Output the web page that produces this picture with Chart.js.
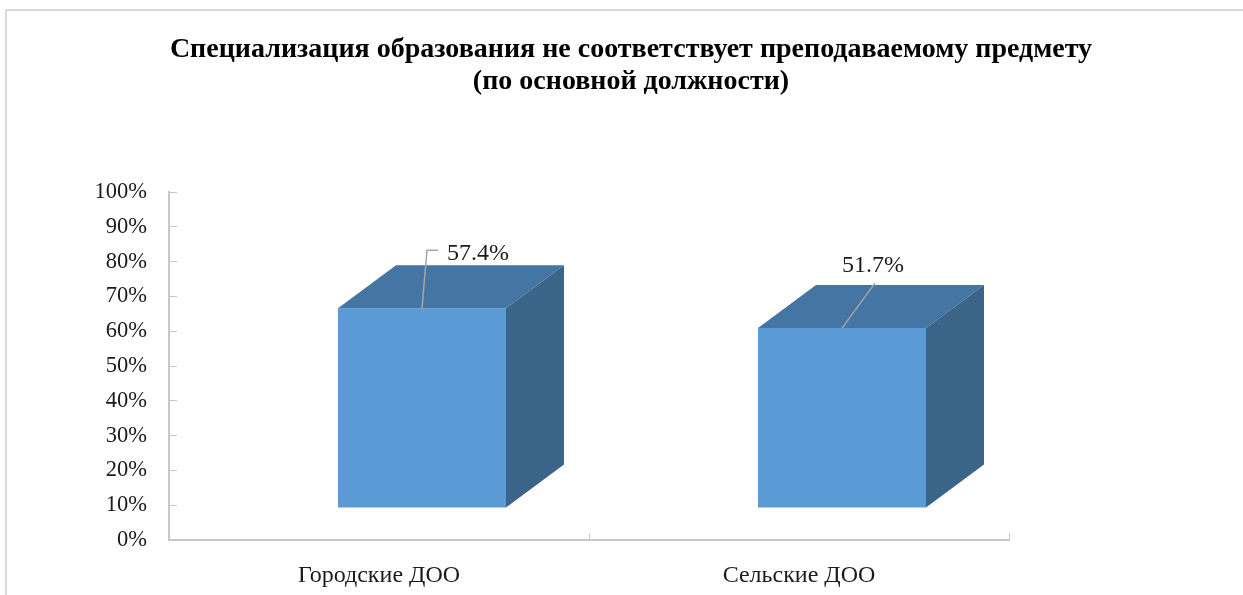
<!DOCTYPE html>
<html>
<head>
	<script src="https://cdn.jsdelivr.net/npm/chart.js@4.4.1/dist/chart.umd.min.js"></script>
	<title>Специализация образования</title>
	<style>
		html, body { margin: 0; padding: 0; background: #fff; }
		#wrap { width: 1243px; height: 595px; }
	</style>
</head>
<body>
<div id="wrap"><canvas id="chart" width="1243" height="595"></canvas></div>
<script type="text/javascript">
	const titleLines = ['Специализация образования не соответствует преподаваемому предмету', '(по основной должности)'];
	const categories = ['Городские ДОО', 'Сельские ДОО'];
	const values = [57.4, 51.7];
	const yTicks = [0, 10, 20, 30, 40, 50, 60, 70, 80, 90, 100];

	const serif = '"Liberation Serif", "Times New Roman", serif';
	const axisGray = '#C8C8C8';

	// 3d look: front face shifted, then top and side faces
	const shift = { x: 43, y: -32 };
	const depth = { x: 58, y: -43 };
	// where each value label sits, relative to the top centre of the front face
	const labelPos = [
		{ dx: 56, dy: -55, line: [[0, 0], [5, -58], [16, -58]] },
		{ dx: 31, dy: -62, line: [[0, 0], [33, -45]] }
	];

	const box3d = {
		id: 'box3d',
		beforeDraw(chart) {
			const ctx = chart.ctx;
			ctx.save();
			ctx.fillStyle = '#fff';
			ctx.fillRect(0, 0, chart.width, chart.height);
			ctx.strokeStyle = '#D9D9D9';
			ctx.lineWidth = 2;
			ctx.strokeRect(6, 10, chart.width + 10, chart.height + 10);
			ctx.fillStyle = '#000';
			ctx.font = 'bold 28px ' + serif;
			ctx.textAlign = 'center';
			ctx.textBaseline = 'middle';
			titleLines.forEach((t, i) => ctx.fillText(t, 631, 50 + i * 32));
			ctx.restore();
		},
		beforeDatasetsDraw(chart) {
			chart.ctx.save();
			chart.ctx.translate(shift.x, shift.y);
		},
		afterDatasetsDraw(chart) {
			const ctx = chart.ctx;
			ctx.restore();
			const meta = chart.getDatasetMeta(0);
			meta.data.forEach((bar, i) => {
				const p = bar.getProps(['x', 'y', 'base', 'width'], true);
				const l = p.x - p.width / 2 + shift.x;
				const r = p.x + p.width / 2 + shift.x;
				const t = p.y + shift.y;
				const b = p.base + shift.y;
				ctx.save();
				ctx.fillStyle = '#4575A2';
				ctx.beginPath();
				ctx.moveTo(l, t); ctx.lineTo(l + depth.x, t + depth.y);
				ctx.lineTo(r + depth.x, t + depth.y); ctx.lineTo(r, t);
				ctx.closePath(); ctx.fill();
				ctx.fillStyle = '#3A6488';
				ctx.beginPath();
				ctx.moveTo(r, t); ctx.lineTo(r + depth.x, t + depth.y);
				ctx.lineTo(r + depth.x, b + depth.y); ctx.lineTo(r, b);
				ctx.closePath(); ctx.fill();

				const cx = p.x + shift.x;
				const lp = labelPos[i];
				ctx.strokeStyle = '#A6A6A6';
				ctx.lineWidth = 1.5;
				ctx.beginPath();
				lp.line.forEach((pt, k) => k ? ctx.lineTo(cx + pt[0], t + pt[1]) : ctx.moveTo(cx + pt[0], t + pt[1]));
				ctx.stroke();
				ctx.fillStyle = '#1a1a1a';
				ctx.font = '24px ' + serif;
				ctx.textAlign = 'center';
				ctx.textBaseline = 'middle';
				ctx.fillText(values[i].toFixed(1) + '%', cx + lp.dx, t + lp.dy);
				ctx.restore();
			});
		}
	};

	const ctx = document.getElementById('chart').getContext('2d');
	const myChart = new Chart(ctx, {
		type: 'bar',
		data: {
			labels: categories,
			datasets: [{
				data: values,
				backgroundColor: '#5B9BD5',
				borderWidth: 0,
				barPercentage: 0.4,
				categoryPercentage: 1
			}]
		},
		options: {
			responsive: false,
			animation: false,
			layout: { padding: { top: 192, right: 234, bottom: 0, left: 0 } },
			plugins: {
				legend: { display: false },
				title: { display: false },
				tooltip: { enabled: false }
			},
			scales: {
				y: {
					min: 0,
					max: 100,
					afterFit: s => { s.width = 169; },
					afterBuildTicks: s => { s.ticks = yTicks.map(v => ({ value: v })); },
					ticks: {
						callback: v => v + '%',
						color: '#1a1a1a',
						font: { family: serif, size: 22.5 },
						padding: 30
					},
					grid: { drawOnChartArea: false, tickLength: -8, color: axisGray, lineWidth: 1 },
					border: { color: axisGray, width: 2 }
				},
				x: {
					afterFit: s => { s.height = 55; },
					ticks: {
						color: '#1a1a1a',
						font: { family: serif, size: 24 },
						padding: 28
					},
					grid: { offset: true, drawOnChartArea: false, tickLength: -7, color: axisGray, lineWidth: 1 },
					border: { color: axisGray, width: 2 }
				}
			}
		},
		plugins: [box3d]
	});
</script>
</body>
</html>
